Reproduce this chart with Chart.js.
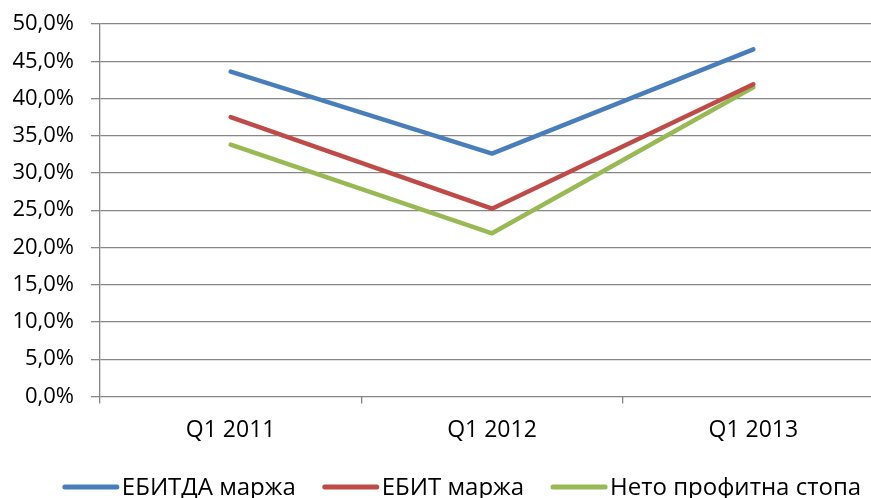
<!DOCTYPE html>
<html lang="bg">
<head>
    <meta charset="UTF-8">
    <title>Маржове</title>
    <style>
        html, body {
            margin: 0;
            padding: 0;
            background: #fff;
            overflow: hidden;
        }
        canvas {
            display: block;
        }
    </style>
</head>
<body>
    <canvas id="marginChart" width="884" height="498"></canvas>

    <script src="https://cdn.jsdelivr.net/npm/chart.js"></script>
    <script>
        // данни, отчетени от графиката
        const quarters = ['Q1 2011', 'Q1 2012', 'Q1 2013'];
        const ebitdaMargin = [43.6, 32.6, 46.6];
        const ebitMargin = [37.5, 25.2, 41.9];
        const netMargin = [33.8, 21.9, 41.5];
        const seriesNames = ['ЕБИТДА маржа', 'ЕБИТ маржа', 'Нето профитна стопа'];

        const fontFamily = "'Open Sans', 'Liberation Sans', sans-serif";
        const gridColor = '#878787';

        function makeSet(label, data, color) {
            return {
                label: label,
                data: data,
                borderColor: color,
                backgroundColor: color,
                borderWidth: 4.5,
                pointRadius: 0,
                pointHoverRadius: 0,
                tension: 0,
                borderCapStyle: 'round',
                borderJoinStyle: 'round'
            };
        }

        // легенда като в Excel: дебела линия и текст точно до нея
        const excelLegend = {
            id: 'excelLegend',
            afterDraw(chart) {
                const c = chart.ctx;
                const sets = chart.data.datasets;
                const lineW = 56, gapText = 3, gapItem = 27;
                c.save();
                c.font = '24px ' + fontFamily;
                c.textBaseline = 'middle';
                let total = 0;
                sets.forEach((ds, i) => {
                    total += lineW + gapText + c.measureText(ds.label).width;
                    if (i < sets.length - 1) total += gapItem;
                });
                let x = 462 - total / 2;
                const y = 487;
                sets.forEach(ds => {
                    c.strokeStyle = ds.borderColor;
                    c.lineWidth = 5;
                    c.lineCap = 'round';
                    c.beginPath();
                    c.moveTo(x + 2, y);
                    c.lineTo(x + lineW - 2, y);
                    c.stroke();
                    x += lineW + gapText;
                    c.fillStyle = '#000';
                    c.fillText(ds.label, x, y + 1);
                    x += c.measureText(ds.label).width + gapItem;
                });
                c.restore();
            }
        };

        const ctx = document.getElementById('marginChart').getContext('2d');
        const chart = new Chart(ctx, {
            type: 'line',
            data: {
                labels: quarters,
                datasets: [
                    makeSet(seriesNames[0], ebitdaMargin, '#4A7EBB'),
                    makeSet(seriesNames[1], ebitMargin, '#BE4B48'),
                    makeSet(seriesNames[2], netMargin, '#98B954')
                ]
            },
            plugins: [excelLegend],
            options: {
                responsive: false,
                animation: false,
                layout: {
                    padding: { top: 0, left: 9, right: 0, bottom: 41 }
                },
                plugins: {
                    tooltip: { enabled: false },
                    legend: { display: false }
                },
                scales: {
                    x: {
                        offset: true,
                        grid: {
                            offset: true,
                            drawOnChartArea: false,
                            drawTicks: true,
                            tickLength: 7,
                            color: gridColor,
                            lineWidth: 1.3
                        },
                        border: { display: false },
                        ticks: {
                            color: '#000',
                            padding: 13,
                            font: { family: fontFamily, size: 23 }
                        }
                    },
                    y: {
                        min: 0,
                        max: 50,
                        afterFit: scale => {
                            scale.width = 91;
                            scale.paddingTop = 24;
                        },
                        grid: {
                            color: gridColor,
                            lineWidth: 1.3,
                            tickLength: 9
                        },
                        border: { color: gridColor, width: 1.3 },
                        ticks: {
                            stepSize: 5,
                            color: '#000',
                            padding: 17,
                            font: { family: fontFamily, size: 22 },
                            callback: v => v.toFixed(1).replace('.', ',') + '%'
                        }
                    }
                }
            }
        });
    </script>
</body>
</html>
